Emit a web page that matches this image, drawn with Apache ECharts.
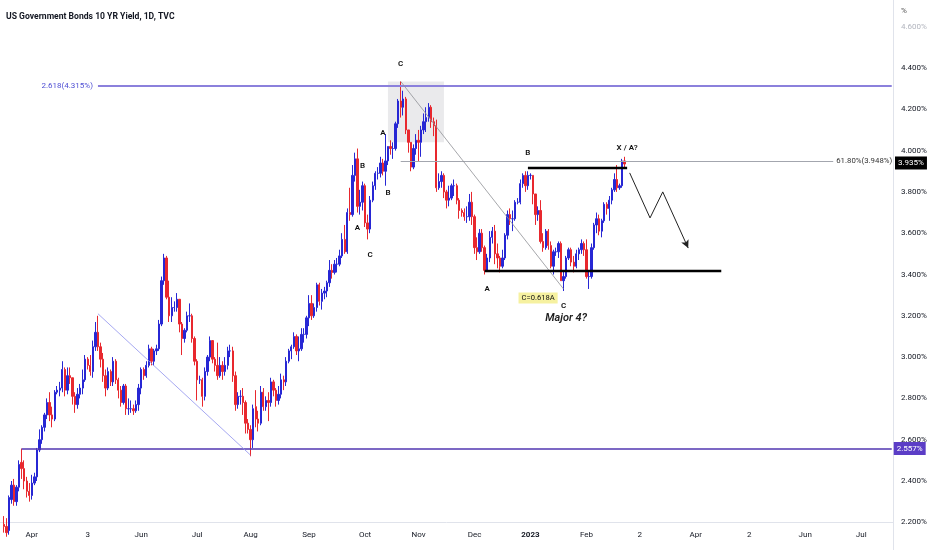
<!DOCTYPE html>
<html><head><meta charset="utf-8">
<script src="https://cdn.jsdelivr.net/npm/echarts@6/dist/echarts.min.js"></script>
<style>html,body{margin:0;padding:0;background:#fff}#c{width:932px;height:550px}</style>
</head><body><div id="c"></div>
<script>
// ---- categories: weekday bars from 2022-03-16 on ----
const firstDate = [2022, 2, 16];
const barCount = 351;
// ---- candles [open, close, low, high], one row per weekday from 2022-03-17 ----
const mar22 = [[2.19,2.18,2.15,2.23],[2.18,2.15,2.13,2.22],[2.16,2.32,2.14,2.33],[2.31,2.38,2.29,2.40],[2.38,2.30,2.28,2.41],[2.30,2.37,2.28,2.38],[2.37,2.48,2.35,2.50],[2.49,2.46,2.41,2.557],[2.46,2.40,2.36,2.50],[2.40,2.35,2.32,2.42],[2.35,2.33,2.30,2.39]];
const apr22 = [[2.33,2.39,2.31,2.43],[2.39,2.42,2.38,2.44],[2.42,2.55,2.40,2.56],[2.55,2.60,2.54,2.65],[2.60,2.66,2.58,2.67],[2.66,2.72,2.64,2.73],[2.72,2.78,2.70,2.80],[2.78,2.72,2.69,2.83],[2.72,2.70,2.66,2.76],[2.70,2.83,2.69,2.84],[2.83,2.84,2.82,2.86],[2.84,2.85,2.81,2.88],[2.85,2.94,2.83,2.98],[2.94,2.84,2.81,2.95],[2.84,2.91,2.82,2.95],[2.91,2.90,2.87,2.95],[2.90,2.81,2.77,2.90],[2.81,2.77,2.73,2.83],[2.77,2.82,2.75,2.85],[2.82,2.85,2.80,2.87],[2.85,2.89,2.82,2.94]];
const may22 = [[2.89,2.99,2.88,3.01],[2.99,2.96,2.94,3.00],[2.96,2.93,2.91,3.01],[2.93,3.05,2.90,3.08],[3.05,3.12,3.03,3.17],[3.12,3.05,3.03,3.20],[3.05,2.99,2.95,3.07],[2.99,2.91,2.88,3.02],[2.91,2.85,2.81,2.94],[2.85,2.93,2.84,2.95],[2.93,2.88,2.86,2.94],[2.88,2.98,2.86,3.00],[2.98,2.89,2.87,2.99],[2.89,2.84,2.80,2.90],[2.84,2.78,2.76,2.86],[2.78,2.86,2.77,2.87],[2.86,2.75,2.72,2.87],[2.75,2.75,2.72,2.80],[2.75,2.75,2.73,2.79],[2.75,2.74,2.72,2.77],[2.74,2.77,2.73,2.79],[2.77,2.85,2.74,2.87]];
const jun22 = [[2.85,2.94,2.82,2.95],[2.94,2.91,2.89,2.95],[2.91,2.96,2.90,2.98],[2.96,3.04,2.95,3.06],[3.04,2.98,2.96,3.05],[2.98,3.03,2.96,3.04],[3.03,3.04,3.01,3.06],[3.04,3.16,3.03,3.18],[3.16,3.37,3.15,3.39],[3.37,3.48,3.35,3.50],[3.48,3.29,3.28,3.49],[3.29,3.20,3.17,3.37],[3.20,3.24,3.17,3.29],[3.24,3.24,3.22,3.27],[3.24,3.28,3.22,3.31],[3.28,3.16,3.12,3.28],[3.16,3.09,3.01,3.17],[3.09,3.13,3.07,3.14],[3.13,3.20,3.12,3.22],[3.20,3.20,3.17,3.26],[3.20,3.09,3.07,3.21],[3.09,2.98,2.96,3.10]];
const jul22 = [[2.98,2.89,2.79,2.99],[2.89,2.89,2.87,2.91],[2.89,2.81,2.76,2.90],[2.81,2.93,2.79,2.95],[2.93,3.00,2.91,3.01],[3.00,3.08,2.98,3.10],[3.08,2.99,2.97,3.08],[2.99,2.96,2.93,3.00],[2.96,2.91,2.89,3.07],[2.91,2.96,2.90,3.00],[2.96,2.93,2.89,2.98],[2.93,2.96,2.91,3.00],[2.96,3.03,2.94,3.05],[3.03,3.03,3.00,3.06],[3.03,2.91,2.88,3.05],[2.91,2.77,2.74,2.93],[2.77,2.81,2.75,2.83],[2.81,2.81,2.77,2.84],[2.81,2.78,2.72,2.85],[2.78,2.68,2.63,2.79],[2.68,2.65,2.63,2.70]];
const aug22 = [[2.65,2.60,2.52,2.67],[2.60,2.75,2.56,2.77],[2.76,2.70,2.66,2.84],[2.70,2.68,2.64,2.74],[2.68,2.83,2.67,2.86],[2.83,2.76,2.74,2.85],[2.76,2.79,2.74,2.81],[2.79,2.78,2.69,2.83],[2.78,2.88,2.76,2.90],[2.88,2.84,2.81,2.89],[2.84,2.79,2.76,2.85],[2.79,2.82,2.77,2.86],[2.82,2.89,2.80,2.92],[2.89,2.88,2.84,2.91],[2.88,2.98,2.86,3.00],[2.98,3.03,2.97,3.04],[3.03,3.05,2.99,3.06],[3.05,3.10,3.04,3.12],[3.10,3.03,3.01,3.11],[3.03,3.04,2.98,3.10],[3.04,3.11,3.03,3.14],[3.11,3.11,3.07,3.14],[3.11,3.19,3.09,3.20]];
const sep22 = [[3.19,3.26,3.15,3.30],[3.26,3.20,3.18,3.30],[3.20,3.24,3.19,3.26],[3.24,3.35,3.22,3.36],[3.35,3.27,3.25,3.36],[3.27,3.31,3.23,3.33],[3.31,3.32,3.28,3.34],[3.32,3.36,3.29,3.37],[3.36,3.42,3.34,3.47],[3.42,3.41,3.38,3.45],[3.41,3.45,3.40,3.47],[3.45,3.45,3.41,3.48],[3.45,3.49,3.44,3.52],[3.49,3.57,3.48,3.60],[3.57,3.51,3.50,3.64],[3.51,3.70,3.50,3.72],[3.70,3.69,3.66,3.82],[3.69,3.88,3.68,3.93],[3.88,3.96,3.85,3.99],[3.96,3.73,3.70,4.01],[3.73,3.75,3.69,3.81],[3.75,3.83,3.71,3.85]];
const oct22 = [[3.83,3.65,3.63,3.84],[3.65,3.62,3.57,3.69],[3.62,3.76,3.60,3.78],[3.76,3.83,3.75,3.85],[3.83,3.89,3.81,3.90],[3.89,3.89,3.86,3.92],[3.89,3.94,3.87,3.97],[3.94,3.90,3.88,3.96],[3.90,3.95,3.83,4.08],[3.95,4.02,3.93,4.02],[4.02,4.01,3.98,4.05],[4.01,4.01,3.96,4.04],[4.01,4.13,4.00,4.14],[4.13,4.24,4.11,4.25],[4.24,4.21,4.16,4.335],[4.21,4.25,4.17,4.29],[4.25,4.10,4.08,4.26],[4.10,4.04,3.99,4.10],[4.04,3.92,3.90,4.04],[3.92,4.01,3.91,4.03],[4.01,4.05,3.98,4.08]];
const nov22 = [[4.05,4.04,3.95,4.10],[4.04,4.10,3.97,4.12],[4.10,4.14,4.08,4.18],[4.14,4.16,4.09,4.21],[4.16,4.21,4.14,4.23],[4.21,4.14,4.11,4.22],[4.14,4.12,4.07,4.16],[4.12,3.82,3.80,4.15],[3.82,3.85,3.81,3.89],[3.85,3.88,3.82,3.90],[3.88,3.80,3.77,3.89],[3.80,3.76,3.72,3.81],[3.76,3.77,3.73,3.83],[3.77,3.83,3.76,3.84],[3.83,3.83,3.78,3.86],[3.83,3.76,3.74,3.84],[3.76,3.71,3.67,3.77],[3.71,3.70,3.68,3.72],[3.70,3.68,3.66,3.72],[3.68,3.68,3.65,3.73],[3.68,3.75,3.66,3.79],[3.75,3.68,3.64,3.80]];
const dec22 = [[3.68,3.53,3.50,3.69],[3.53,3.51,3.47,3.58],[3.51,3.60,3.50,3.62],[3.60,3.53,3.51,3.62],[3.53,3.42,3.40,3.54],[3.42,3.48,3.42,3.50],[3.48,3.58,3.46,3.61],[3.58,3.61,3.55,3.63],[3.61,3.50,3.45,3.64],[3.50,3.48,3.43,3.55],[3.48,3.44,3.41,3.49],[3.44,3.48,3.43,3.52],[3.48,3.59,3.47,3.60],[3.59,3.69,3.57,3.71],[3.69,3.67,3.64,3.72],[3.67,3.67,3.61,3.71],[3.67,3.75,3.66,3.76],[3.75,3.75,3.74,3.77],[3.75,3.84,3.74,3.86],[3.84,3.88,3.82,3.89],[3.88,3.83,3.80,3.90],[3.83,3.88,3.81,3.90]];
const jan23 = [[3.88,3.88,3.86,3.89],[3.88,3.79,3.74,3.88],[3.79,3.69,3.64,3.79],[3.69,3.71,3.66,3.73],[3.71,3.56,3.55,3.76],[3.56,3.53,3.51,3.60],[3.53,3.61,3.52,3.62],[3.61,3.54,3.52,3.62],[3.54,3.44,3.43,3.56],[3.44,3.51,3.40,3.52],[3.51,3.51,3.49,3.53],[3.51,3.55,3.48,3.56],[3.55,3.37,3.37,3.56],[3.37,3.39,3.32,3.42],[3.39,3.48,3.38,3.49],[3.48,3.52,3.47,3.53],[3.52,3.46,3.44,3.53],[3.46,3.44,3.41,3.49],[3.44,3.50,3.43,3.52],[3.50,3.52,3.47,3.53],[3.52,3.55,3.50,3.57],[3.55,3.52,3.49,3.56]];
const feb23 = [[3.52,3.39,3.38,3.57],[3.39,3.39,3.33,3.42],[3.39,3.53,3.38,3.55],[3.53,3.64,3.52,3.65],[3.64,3.67,3.60,3.70],[3.67,3.61,3.59,3.69],[3.61,3.66,3.58,3.67],[3.66,3.74,3.65,3.75],[3.74,3.72,3.69,3.75],[3.72,3.76,3.66,3.78],[3.76,3.81,3.74,3.82],[3.81,3.86,3.80,3.89],[3.86,3.82,3.80,3.93],[3.82,3.83,3.81,3.84],[3.83,3.95,3.82,3.96],[3.95,3.935,3.92,3.97]];
// ---- tick labels ----
const xTickLabels = {'2022-04-01':'Apr','2022-05-03':'3','2022-06-01':'Jun','2022-07-01':'Jul','2022-08-01':'Aug','2022-09-01':'Sep','2022-10-03':'Oct','2022-11-01':'Nov','2022-12-01':'Dec','2023-01-02':'2023','2023-02-01':'Feb','2023-03-02':'2','2023-04-03':'Apr','2023-05-02':'2','2023-06-01':'Jun','2023-07-03':'Jul'};
const yTickMin = 2.2, yTickMax = 4.6, yTickStep = 0.2;
// ---- levels and notes ----
const fibLevel = 4.315, fibText = '2.618(4.315%)';
const supportLevel = 2.557;
const retraceLevel = 3.948, retraceText = '61.80%(3.948%)';
const lastPrice = 3.935;
const neckHigh = 3.915, neckLow = 3.42;
const notes = [
  ['C','2022-10-21',4.42],['A','2022-10-12',4.085],['B','2022-09-30',3.925],['B','2022-10-14',3.795],
  ['A','2022-09-28',3.625],['C','2022-10-05',3.494],['B','2022-12-30',3.988],['A','2022-12-08',3.33],
  ['C','2023-01-19',3.248],['X / A?','2023-02-23',4.013]
];
const projection = [[247,3.892],[255,3.674],[260,3.80],[270,3.528]];

const dates = [];
(function(){
  const d = new Date(Date.UTC(firstDate[0], firstDate[1], firstDate[2]));
  while (dates.length < barCount) {
    const w = d.getUTCDay();
    if (w !== 0 && w !== 6) dates.push(d.toISOString().slice(0,10));
    d.setUTCDate(d.getUTCDate() + 1);
  }
})();
const candles = [].concat(mar22, apr22, may22, jun22, jul22, aug22, sep22, oct22, nov22, dec22, jan23, feb23);
const seriesData = dates.map((dt, i) => (i >= 1 && i - 1 < candles.length) ? candles[i - 1] : '-');
const lastCat = dates[barCount - 1];
const FONT = 'Roboto, sans-serif';
const ls = (color, width) => ({color: color, width: width, type: 'solid', opacity: 1});

const ml = [];
ml.push([{coord:['2022-05-09', fibLevel], lineStyle:ls('#8b80dc', 2),
  label:{show:true, position:'start', formatter:fibText, color:'#4e4ed4', fontSize:8, fontFamily:FONT, distance:5}},
  {coord:[lastCat, fibLevel]}]);
ml.push([{coord:['2022-03-28', supportLevel], lineStyle:ls('#5036b0', 1.6),
  label:{show:true, position:'end', formatter: supportLevel.toFixed(3)+'%', color:'#fff', backgroundColor:'#5b3dc6', padding:[3,3,2,3], fontSize:8, fontFamily:FONT, distance:2}},
  {coord:[lastCat, supportLevel]}]);
ml.push([{coord:['2022-10-21', retraceLevel], lineStyle:ls('#a3a6ae', 1),
  label:{show:true, position:'end', formatter:retraceText, color:'#333', fontSize:7.8, fontFamily:FONT, distance:3}},
  {coord:[dates[327], retraceLevel]}]);
ml.push([{coord:['2022-10-21', 4.335], lineStyle:ls('#8f9096', 0.8)}, {coord:['2023-01-19', 3.33]}]);
ml.push([{coord:['2022-05-09', 3.21], lineStyle:ls('#8f92ee', 0.8)}, {coord:['2022-08-01', 2.525]}]);
ml.push([{coord:['2022-12-30', neckHigh], lineStyle:ls('#000', 2.4)}, {coord:[dates[246], neckHigh]}]);
ml.push([{coord:['2022-12-07', neckLow], lineStyle:ls('#000', 2.4)}, {coord:[dates[283], neckLow]}]);
for (let i = 0; i < projection.length - 1; i++) {
  const last = i === projection.length - 2;
  ml.push([{coord:[dates[projection[i][0]], projection[i][1]], lineStyle:ls('#222', 1), symbol:'none'},
    {coord:[dates[projection[i+1][0]], projection[i+1][1]], symbol: last ? 'arrow' : 'none', symbolSize: last ? [6,8] : 0}]);
}
ml.push({yAxis:lastPrice, lineStyle:{color:'rgba(0,0,0,0)', width:1, type:'solid'},
  label:{show:true, position:'end', formatter: lastPrice.toFixed(3)+'%', color:'#fff', backgroundColor:'#000', padding:[3,3,2,3], fontSize:8, fontFamily:FONT, distance:2}});

const mp = notes.map(n => ({coord:[n[1], n[2]], label:{formatter:n[0]}}));
mp.push({coord:['2023-01-05', 3.286], label:{formatter:'C=0.618A', backgroundColor:'#f6f1a0', padding:[2,3,1,3], fontWeight:'normal', fontSize:7.6}});
mp.push({coord:['2023-01-20', 3.19], label:{formatter:'Major 4?', fontStyle:'italic', fontWeight:600, fontSize:11, color:'#1e1e1e'}});

const chart = echarts.init(document.getElementById('c'), null, {renderer:'canvas'});
chart.setOption({
  animation:false,
  backgroundColor:'#fff',
  grid:{left:0, right:39, top:26.7, bottom:27.7, containLabel:false, outerBoundsMode:'none'},
  xAxis:{type:'category', data:dates, boundaryGap:true,
    axisLine:{show:true, lineStyle:{color:'#e0e3eb'}}, axisTick:{show:false}, splitLine:{show:false},
    axisLabel:{interval:(i, v) => xTickLabels[v] !== undefined, formatter:(v) => v === '2023-01-02' ? '{b|2023}' : (xTickLabels[v] || ''),
      color:'#131722', fontSize:8, fontFamily:FONT, margin:9, rich:{b:{fontWeight:'bold', fontSize:8, color:'#131722', fontFamily:FONT}}}},
  yAxis:{type:'value', position:'right', min:yTickMin, max:yTickMax, interval:yTickStep, scale:false,
    axisLine:{show:true, lineStyle:{color:'#e0e3eb'}}, axisTick:{show:false}, splitLine:{show:false},
    axisLabel:{color:'#131722', fontSize:8, fontFamily:FONT, margin:8,
      formatter:(v) => Math.abs(v - yTickMax) < 1e-6 ? '{f|' + v.toFixed(3) + '%}' : v.toFixed(3) + '%',
      rich:{f:{color:'#b2b5be', fontSize:8, fontFamily:FONT}}}},
  series:[{
    type:'candlestick', data:seriesData, barWidth:'72%',
    itemStyle:{color:'#2727d4', color0:'#e8282e', borderColor:'#2727d4', borderColor0:'#e8282e', borderWidth:1},
    markArea:{silent:true, itemStyle:{color:'rgba(150,152,160,0.2)'},
      data:[[{coord:['2022-10-14', 4.335]}, {coord:['2022-11-15', 4.04]}]]},
    markLine:{silent:true, symbol:['none','none'], animation:false, label:{show:false}, lineStyle:{type:'solid'}, data:ml},
    markPoint:{silent:true, symbol:'circle', symbolSize:0, animation:false,
      label:{show:true, position:'inside', color:'#111', fontSize:8, fontWeight:600, fontFamily:FONT},
      data:mp}
  }],
  graphic:[
    {type:'line', shape:{x1:893.5, y1:0, x2:893.5, y2:550}, style:{stroke:'#e0e3eb', lineWidth:1}, silent:true},
    {type:'text', left:6, top:12, style:{text:'US Government Bonds 10 YR Yield, 1D, TVC', fill:'#131722', fontSize:8.6, fontWeight:'bold', fontFamily:FONT}, silent:true},
    {type:'text', left:901, top:7, style:{text:'%', fill:'#555', fontSize:8, fontFamily:FONT}, silent:true}
  ]
});
</script>
</body></html>
